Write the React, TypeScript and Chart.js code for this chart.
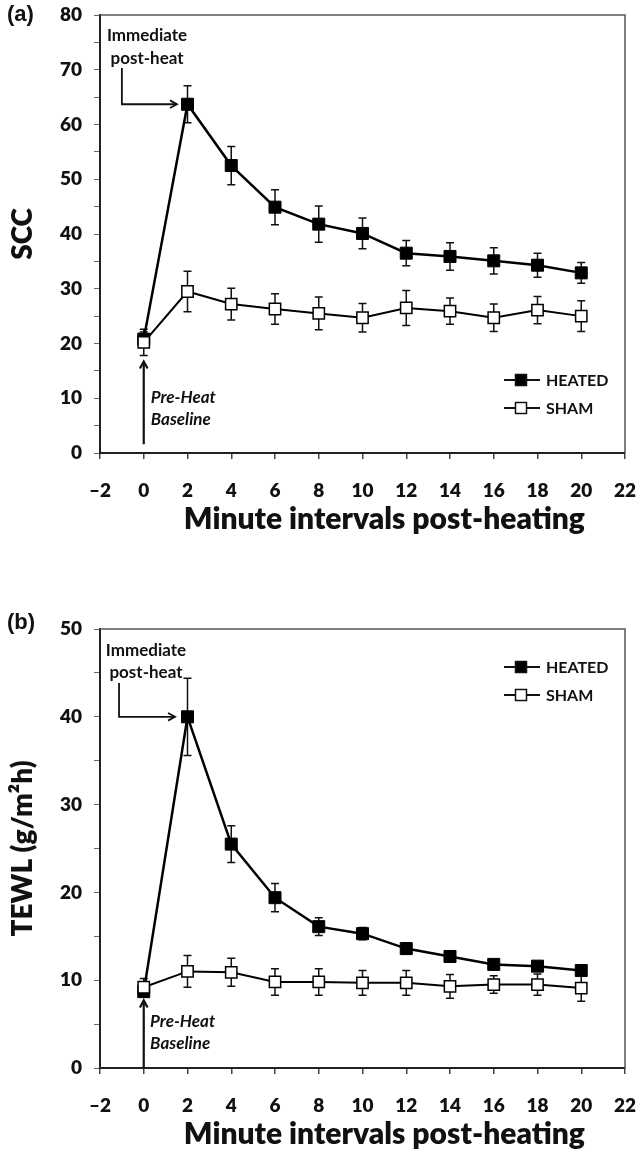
import React, { useEffect, useRef } from 'react';
import { Chart, registerables } from 'chart.js';

Chart.register(...registerables);

// ---------- data ----------
const minutes = [0, 2, 4, 6, 8, 10, 12, 14, 16, 18, 20];
const xTickMin = -2;
const xTickMax = 22;
const xTickStep = 2;
const seriesLabels = ['HEATED', 'SHAM'];

const sccHeated = [20.8, 63.7, 52.5, 44.9, 41.8, 40.1, 36.5, 35.9, 35.1, 34.3, 32.9];
const sccHeatedErr = [1.3, 3.4, 3.5, 3.2, 3.3, 2.8, 2.3, 2.5, 2.4, 2.2, 1.9];
const sccSham = [20.2, 29.5, 27.2, 26.3, 25.5, 24.7, 26.5, 25.9, 24.7, 26.1, 25.0];
const sccShamErr = [2.4, 3.7, 2.9, 2.8, 3.0, 2.6, 3.2, 2.4, 2.5, 2.5, 2.8];

const tewlHeated = [8.7, 40.0, 25.5, 19.4, 16.1, 15.3, 13.6, 12.7, 11.8, 11.6, 11.1];
const tewlHeatedErr = [0.6, 4.4, 2.1, 1.6, 1.0, 0.7, 0.6, 0.5, 0.4, 0.45, 0.4];
const tewlSham = [9.2, 11.0, 10.9, 9.8, 9.8, 9.7, 9.7, 9.3, 9.5, 9.5, 9.1];
const tewlShamErr = [1.0, 1.8, 1.6, 1.5, 1.5, 1.4, 1.4, 1.35, 1.0, 1.2, 1.5];

const xTitle = 'Minute intervals post-heating';

const FONT = 'Lato, "Open Sans", "DejaVu Sans", sans-serif';
const INK = '#111';
const HEAVY = 800;

interface PanelCfg {
  tag: string;
  tagY: number;
  yTitle: string;
  yMax: number;
  heated: number[];
  heatedErr: number[];
  sham: number[];
  shamErr: number[];
  height: number;
  padTop: number;
  axisHeight: number;
  imm: { textX: number; y1: number; y2: number; arrowX: number; arrowTop: number; arrowY: number; arrowEnd: number };
  base: { textX: number; y1: number; y2: number; fromY: number; toY: number };
  legendY: [number, number];
}

const panelA: PanelCfg = {
  tag: '(a)',
  tagY: 15,
  yTitle: 'SCC',
  yMax: 80,
  heated: sccHeated,
  heatedErr: sccHeatedErr,
  sham: sccSham,
  shamErr: sccShamErr,
  height: 575,
  padTop: 15,
  axisHeight: 122,
  imm: { textX: 0.15, y1: 76.2, y2: 72.1, arrowX: -1.0, arrowTop: 70.3, arrowY: 63.7, arrowEnd: 1.52 },
  base: { textX: 0.32, y1: 10.2, y2: 6.2, fromY: 1.6, toY: 16.7 },
  legendY: [365, 393],
};

const panelB: PanelCfg = {
  tag: '(b)',
  tagY: 48,
  yTitle: 'TEWL (g/m²h)',
  yMax: 50,
  heated: tewlHeated,
  heatedErr: tewlHeatedErr,
  sham: tewlSham,
  shamErr: tewlShamErr,
  height: 574,
  padTop: 54,
  axisHeight: 81,
  imm: { textX: 0.1, y1: 47.5, y2: 45.0, arrowX: -1.13, arrowTop: 43.85, arrowY: 40.0, arrowEnd: 1.43 },
  base: { textX: 0.29, y1: 5.3, y2: 2.8, fromY: 0, toY: 7.7 },
  legendY: [38, 66],
};

function arrowHead(ctx: CanvasRenderingContext2D, x: number, y: number, ang: number) {
  const len = 8;
  const spread = 0.5;
  ctx.beginPath();
  ctx.moveTo(x - len * Math.cos(ang - spread), y - len * Math.sin(ang - spread));
  ctx.lineTo(x, y);
  ctx.lineTo(x - len * Math.cos(ang + spread), y - len * Math.sin(ang + spread));
  ctx.stroke();
}

function makePlugin(cfg: PanelCfg) {
  return {
    id: 'panelDecor',
    beforeDatasetsDraw(chart: any) {
      const { ctx, chartArea: ca, scales } = chart;
      const xs = scales.x;
      const ys = scales.y;
      ctx.save();
      ctx.strokeStyle = '#555';
      ctx.lineWidth = 1.5;
      ctx.beginPath();
      ctx.moveTo(ca.left, ca.top);
      ctx.lineTo(ca.right, ca.top);
      ctx.lineTo(ca.right, ca.bottom);
      ctx.stroke();

      ctx.strokeStyle = INK;
      ctx.lineWidth = 1.5;
      const series: [number[], number[]][] = [
        [cfg.heated, cfg.heatedErr],
        [cfg.sham, cfg.shamErr],
      ];
      series.forEach(([vals, errs]) => {
        vals.forEach((v, i) => {
          const px = xs.getPixelForValue(minutes[i]);
          const t = ys.getPixelForValue(v + errs[i]);
          const b = ys.getPixelForValue(v - errs[i]);
          ctx.beginPath();
          ctx.moveTo(px, t);
          ctx.lineTo(px, b);
          ctx.moveTo(px - 4, t);
          ctx.lineTo(px + 4, t);
          ctx.moveTo(px - 4, b);
          ctx.lineTo(px + 4, b);
          ctx.stroke();
        });
      });
      ctx.restore();
    },
    afterDraw(chart: any) {
      const { ctx, chartArea: ca, scales } = chart;
      const xs = scales.x;
      const ys = scales.y;
      const X = (v: number) => xs.getPixelForValue(v);
      const Y = (v: number) => ys.getPixelForValue(v);
      ctx.save();
      ctx.fillStyle = INK;
      ctx.strokeStyle = INK;

      // panel tag
      ctx.font = 'bold 22px "Liberation Sans", Arial, sans-serif';
      ctx.textAlign = 'left';
      ctx.textBaseline = 'middle';
      ctx.fillText(cfg.tag, 7, cfg.tagY);

      // Immediate post-heat
      ctx.font = `bold 17px ${FONT}`;
      ctx.textAlign = 'center';
      ctx.fillText('Immediate', X(cfg.imm.textX), Y(cfg.imm.y1));
      ctx.fillText('post-heat', X(cfg.imm.textX), Y(cfg.imm.y2));
      ctx.lineWidth = 1.8;
      ctx.beginPath();
      ctx.moveTo(X(cfg.imm.arrowX), Y(cfg.imm.arrowTop));
      ctx.lineTo(X(cfg.imm.arrowX), Y(cfg.imm.arrowY));
      ctx.lineTo(X(cfg.imm.arrowEnd), Y(cfg.imm.arrowY));
      ctx.stroke();
      arrowHead(ctx, X(cfg.imm.arrowEnd), Y(cfg.imm.arrowY), 0);

      // Pre-Heat Baseline
      ctx.font = `italic bold 17px ${FONT}`;
      ctx.textAlign = 'left';
      ctx.fillText('Pre-Heat', X(cfg.base.textX), Y(cfg.base.y1));
      ctx.fillText('Baseline', X(cfg.base.textX), Y(cfg.base.y2));
      ctx.lineWidth = 2.2;
      ctx.beginPath();
      ctx.moveTo(X(0), Y(cfg.base.fromY));
      ctx.lineTo(X(0), Y(cfg.base.toY));
      ctx.stroke();
      arrowHead(ctx, X(0), Y(cfg.base.toY), -Math.PI / 2);

      // legend
      ctx.font = `bold 16px ${FONT}`;
      ctx.textAlign = 'left';
      seriesLabels.forEach((lab, i) => {
        const ly = ca.top + cfg.legendY[i];
        ctx.lineWidth = 2;
        ctx.beginPath();
        ctx.moveTo(ca.right - 121, ly);
        ctx.lineTo(ca.right - 85, ly);
        ctx.stroke();
        const cx = ca.right - 104;
        ctx.fillStyle = i === 0 ? '#000' : '#fff';
        ctx.fillRect(cx - 5.5, ly - 5.5, 11, 11);
        ctx.lineWidth = 1.5;
        ctx.strokeRect(cx - 5.5, ly - 5.5, 11, 11);
        ctx.fillStyle = INK;
        ctx.fillText(lab, ca.right - 79, ly + 1);
      });

      // x title
      ctx.font = `${HEAVY} 30px ${FONT}`;
      ctx.textAlign = 'center';
      ctx.textBaseline = 'middle';
      ctx.fillText(xTitle, X(11), ca.bottom + 66);
      ctx.restore();
    },
  };
}

function buildChart(canvas: HTMLCanvasElement, cfg: PanelCfg) {
  const pts = (vals: number[]) => vals.map((v, i) => ({ x: minutes[i], y: v }));
  return new Chart(canvas, {
    type: 'line',
    data: {
      datasets: [
        {
          label: seriesLabels[0],
          data: pts(cfg.heated),
          borderColor: '#000',
          borderWidth: 2.5,
          backgroundColor: '#000',
          pointStyle: 'rect',
          pointRadius: 8.5,
          pointBorderWidth: 1,
          pointBorderColor: '#000',
          pointBackgroundColor: '#000',
          tension: 0,
          order: 1,
        },
        {
          label: seriesLabels[1],
          data: pts(cfg.sham),
          borderColor: '#000',
          borderWidth: 2,
          backgroundColor: '#fff',
          pointStyle: 'rect',
          pointRadius: 8,
          pointBorderWidth: 1.5,
          pointBorderColor: '#000',
          pointBackgroundColor: '#fff',
          tension: 0,
          order: 0,
        },
      ],
    },
    options: {
      responsive: false,
      animation: false,
      events: [],
      layout: { padding: { top: cfg.padTop, right: 14, left: 0, bottom: 0 } },
      plugins: {
        legend: { display: false },
        tooltip: { enabled: false },
        title: { display: false },
      },
      scales: {
        x: {
          type: 'linear',
          min: xTickMin,
          max: xTickMax,
          ticks: {
            stepSize: xTickStep,
            autoSkip: false,
            maxRotation: 0,
            padding: 20,
            color: INK,
            font: { family: FONT, size: 19, weight: HEAVY },
            callback: (v: any) => (v < 0 ? '–' + Math.abs(v) : String(v)),
          },
          grid: { drawOnChartArea: false, drawTicks: true, tickLength: 6, color: '#444', lineWidth: 1.5 },
          border: { display: true, color: '#222', width: 2 },
          afterFit: (s: any) => {
            s.height = cfg.axisHeight;
            s.paddingLeft = 0;
            s.paddingRight = 0;
          },
        },
        y: {
          type: 'linear',
          min: 0,
          max: cfg.yMax,
          ticks: {
            stepSize: 5,
            autoSkip: false,
            padding: 12,
            color: INK,
            font: { family: FONT, size: 19, weight: HEAVY },
            callback: (v: any) => (v % 10 === 0 ? String(v) : ''),
          },
          grid: { drawOnChartArea: false, drawTicks: true, tickLength: 6, color: '#666', lineWidth: 1 },
          border: { display: true, color: '#222', width: 2 },
          title: {
            display: true,
            text: cfg.yTitle,
            color: INK,
            font: { family: FONT, size: 28, weight: HEAVY, lineHeight: 1 },
            padding: { top: 9, bottom: 0 },
          },
          afterFit: (s: any) => {
            s.width = 100;
            s.paddingTop = 0;
            s.paddingBottom = 0;
          },
        },
      },
    },
    plugins: [makePlugin(cfg)],
  } as any);
}

function Panel({ cfg, top }: { cfg: PanelCfg; top: number }) {
  const ref = useRef<HTMLCanvasElement | null>(null);
  useEffect(() => {
    if (!ref.current) return;
    const chart = buildChart(ref.current, cfg);
    return () => chart.destroy();
  }, [cfg]);
  return (
    <canvas
      ref={ref}
      width={639}
      height={cfg.height}
      style={{ position: 'absolute', left: 0, top, width: 639, height: cfg.height, display: 'block' }}
    />
  );
}

export default function App() {
  return (
    <div style={{ position: 'absolute', left: 0, top: 0, width: 639, height: 1149, background: '#fff', overflow: 'hidden' }}>
      <Panel cfg={panelA} top={0} />
      <Panel cfg={panelB} top={575} />
    </div>
  );
}
